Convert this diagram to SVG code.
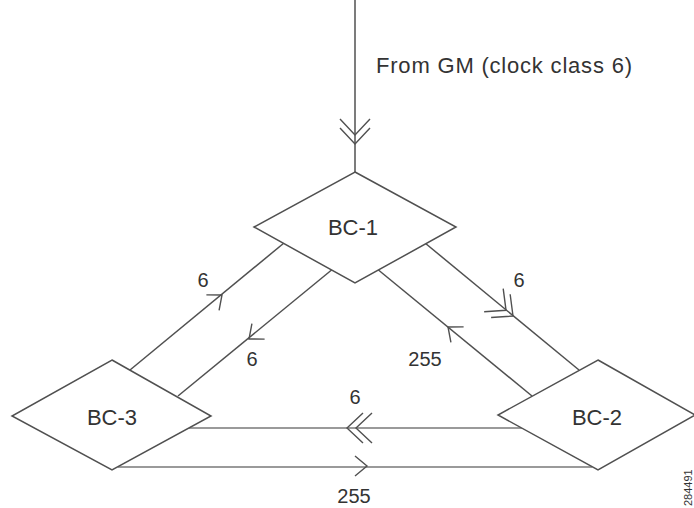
<svg xmlns="http://www.w3.org/2000/svg" xmlns:xlink="http://www.w3.org/1999/xlink" width="694" height="508" viewBox="0 0 694 508">
<style>
.bg{fill:#ffffff}
.ln{stroke:#505050;stroke-width:1.5;fill:none}
.hl{stroke:#9a9a9a;stroke-width:2;fill:none}
.ar{stroke:#505050;stroke-width:1.4;fill:none}
.nd{fill:#ffffff;stroke:#505050;stroke-width:1.5}
.lbl{font-family:"Liberation Sans",Arial,sans-serif;fill:#333}
.nt{font-size:22px;text-anchor:middle}
.el{font-size:20px;text-anchor:middle}
</style>
<defs>
<path id="ch1" d="M -12,-10 L 0,0 L -12,10"/>
<path id="ch2" d="M -16,-15 L 0,0 L -16,15 M -25,-15 L -9,0 L -25,15"/>
</defs>
<rect class="bg" x="0" y="0" width="694" height="508"/>
<g id="connectors">
<line class="ln" x1="355" y1="0" x2="355" y2="175"/>
<use href="#ch2" class="ar" transform="translate(355,144) rotate(90)"/>
<line class="ln" x1="130" y1="370" x2="284" y2="243"/>
<use href="#ch1" class="ar" transform="translate(222,295) rotate(-39.4)"/>
<line class="ln" x1="334" y1="268" x2="178" y2="396"/>
<use href="#ch1" class="ar" transform="translate(249,339) rotate(140.6)"/>
<line class="ln" x1="425" y1="243" x2="579" y2="370"/>
<use href="#ch2" class="ar" transform="translate(513,316) rotate(39.4)"/>
<line class="ln" x1="376" y1="268" x2="532" y2="396"/>
<use href="#ch1" class="ar" transform="translate(448,327) rotate(-140.6)"/>
<line class="hl" x1="189" y1="428" x2="522" y2="428"/>
<use href="#ch2" class="ar" transform="translate(347,428) rotate(180)"/>
<line class="hl" x1="118" y1="467" x2="592" y2="467"/>
<use href="#ch1" class="ar" transform="translate(367,466)"/>
<text class="lbl" x="376" y="73" font-size="22" textLength="256">From GM (clock class 6)</text>
<text class="lbl el" x="203" y="287">6</text>
<text class="lbl el" x="252" y="366">6</text>
<text class="lbl el" x="519" y="287">6</text>
<text class="lbl el" x="425" y="366">255</text>
<text class="lbl el" x="355" y="404">6</text>
<text class="lbl el" x="354" y="503">255</text>
</g>
<g id="BC-1">
<polygon class="nd" points="355,172 456,227 355,283 254,227"/>
<text class="lbl nt" x="353" y="235">BC-1</text>
</g>
<g id="BC-3">
<polygon class="nd" points="112,360 211,416 112,470 12,416"/>
<text class="lbl nt" x="112" y="425">BC-3</text>
</g>
<g id="BC-2">
<polygon class="nd" points="598,360 695,415 598,470 498,415"/>
<text class="lbl nt" x="597" y="425">BC-2</text>
</g>
<text class="lbl" x="0" y="0" font-size="11" fill="#777" transform="translate(692,506) rotate(-90)">284491</text>
</svg>
